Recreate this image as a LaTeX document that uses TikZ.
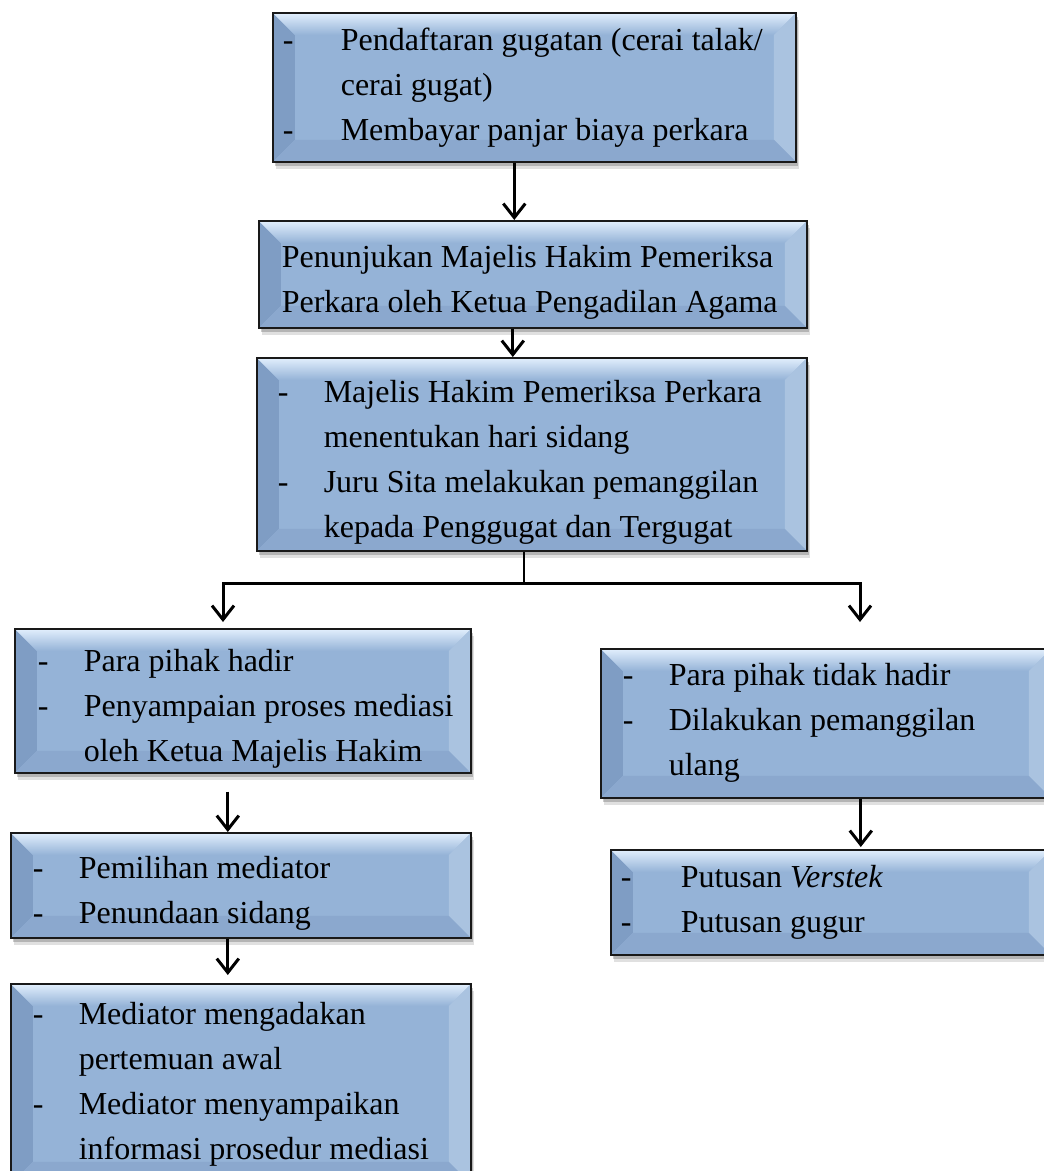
\documentclass[tikz,border=0pt]{standalone}
\usepackage{fontspec}
\setmainfont{Liberation Serif}
\usetikzlibrary{arrows.meta,shadows,calc}

\definecolor{boxmid}{HTML}{95B3D7}
\definecolor{bevtop}{HTML}{E2EFFD}
\definecolor{bevleft}{HTML}{7F9DC4}
\definecolor{bevright}{HTML}{AAC3E0}
\definecolor{bevbottom}{HTML}{8BA8CE}

\newlength\bevw
\setlength\bevw{22pt}
\newcommand\bulline[2][46pt]{\makebox[#1][l]{-}#2}
\newcommand\contline[2][46pt]{\hspace*{#1}#2}
\newcommand\lowtext{\rule{0pt}{38pt}}

% bevel look of the boxes
\newcommand\drawbevel{%
  \def\pb{path picture bounding box}%
  \fill[bevleft] (\pb.north west) -- ([shift={(\bevw,-\bevw)}]\pb.north west)
    -- ([shift={(\bevw,\bevw)}]\pb.south west) -- (\pb.south west) -- cycle;
  \fill[bevright] (\pb.north east) -- ([shift={(-\bevw,-\bevw)}]\pb.north east)
    -- ([shift={(-\bevw,\bevw)}]\pb.south east) -- (\pb.south east) -- cycle;
  \fill[bevbottom] (\pb.south west) -- ([shift={(\bevw,\bevw)}]\pb.south west)
    -- ([shift={(-\bevw,\bevw)}]\pb.south east) -- (\pb.south east) -- cycle;
  \shade[top color=bevtop, bottom color=boxmid] (\pb.north west)
    -- ([shift={(\bevw,-\bevw)}]\pb.north west)
    -- ([shift={(-\bevw,-\bevw)}]\pb.north east) -- (\pb.north east) -- cycle;
}

\tikzset{
  bevelbox/.style={draw=black!90, line width=1.6pt, fill=boxmid, anchor=north west,
    inner sep=0pt, align=left, font=\fontsize{32}{45}\selectfont,
    drop shadow={shadow xshift=3pt, shadow yshift=-7pt, opacity=.12, fill=black},
    drop shadow={shadow xshift=2pt, shadow yshift=-4pt, opacity=.25, fill=black!80},
    path picture={\drawbevel}},
  boxsize/.style n args={3}{minimum width=#1pt, text width=#1pt, minimum height=#2pt,
    execute at begin node={\leftskip=#3pt\spaceskip=0pt\xspaceskip=0pt\relax}},
  flow/.style={line width=3pt, -{Straight Barb[length=14pt,width=22pt]}},
}

\begin{document}
\begin{tikzpicture}[x=1pt,y=1pt]
  \fill[white] (0,0) rectangle (1044,-1171);
  \useasboundingbox (0,0) rectangle (1044,-1171);
  \clip (0,0) rectangle (1044,-1171);

  \node[bevelbox, boxsize={523}{149}{10}] (b1) at (272,-12)
    {\bulline[58pt]{Pendaftaran gugatan (cerai talak/}\\
     \contline[58pt]{cerai gugat)}\\
     \bulline[58pt]{Membayar panjar biaya perkara}};
  \node[bevelbox, boxsize={548}{107}{23}] (b2) at (258,-220)
    {\lowtext Penunjukan Majelis Hakim Pemeriksa\\
     Perkara oleh Ketua Pengadilan Agama};
  \node[bevelbox, boxsize={550}{193}{21}] (b3) at (256,-357)
    {\lowtext\bulline{Majelis Hakim Pemeriksa Perkara}\\
     \contline{menentukan hari sidang}\\
     \bulline{Juru Sita melakukan pemanggilan}\\
     \contline{kepada Penggugat dan Tergugat}};
  \node[bevelbox, boxsize={456}{144}{23}] (b4) at (14,-628)
    {\lowtext\bulline{Para pihak hadir}\\
     \bulline{Penyampaian proses mediasi}\\
     \contline{oleh Ketua Majelis Hakim}};
  \node[bevelbox, boxsize={450}{149}{22}] (b5) at (600,-648)
    {\bulline{Para pihak tidak hadir}\\
     \bulline{Dilakukan pemanggilan}\\
     \contline{ulang}};
  \node[bevelbox, boxsize={440}{105}{10}] (b6) at (610,-849)
    {\bulline[60pt]{Putusan \textit{Verstek}}\\
     \bulline[60pt]{Putusan gugur}};
  \node[bevelbox, boxsize={460}{105}{22}] (b7) at (10,-832)
    {\lowtext\bulline{Pemilihan mediator}\\
     \bulline{Penundaan sidang}};
  \node[bevelbox, boxsize={460}{200}{22}] (b8) at (10,-983)
    {\bulline{Mediator mengadakan}\\
     \contline{pertemuan awal}\\
     \bulline{Mediator menyampaikan}\\
     \contline{informasi prosedur mediasi}};

  \coordinate (jl) at (223,-583);
  \coordinate (jr) at (860,-583);

  \draw[flow] ([xshift=-20pt]b1.south) -- ([xshift=-20pt]b1.south |- b2.north);
  \draw[flow] ([xshift=-20pt]b2.south) -- ([xshift=-20pt]b2.south |- b3.north);
  \draw[line width=2.5pt] ([xshift=-8pt]b3.south) -- ([xshift=-8pt]b3.south |- jl);
  \draw[flow, shorten >=6pt] ([xshift=-8pt]b3.south |- jl) -| (jl |- b4.north);
  \draw[flow, shorten >=26pt] ([xshift=-8pt]b3.south |- jl) -| (jr |- b5.north);
  \draw[flow, shorten >=2pt] ([xshift=35pt]b5.south) -- ([xshift=35pt]b5.south |- b6.north);
  \draw[flow, shorten <=18pt] ([xshift=-15pt]b4.south) -- ([xshift=-15pt]b4.south |- b7.north);
  \draw[flow, shorten >=8pt] ([xshift=-13pt]b7.south) -- ([xshift=-13pt]b7.south |- b8.north);
\end{tikzpicture}
\end{document}
